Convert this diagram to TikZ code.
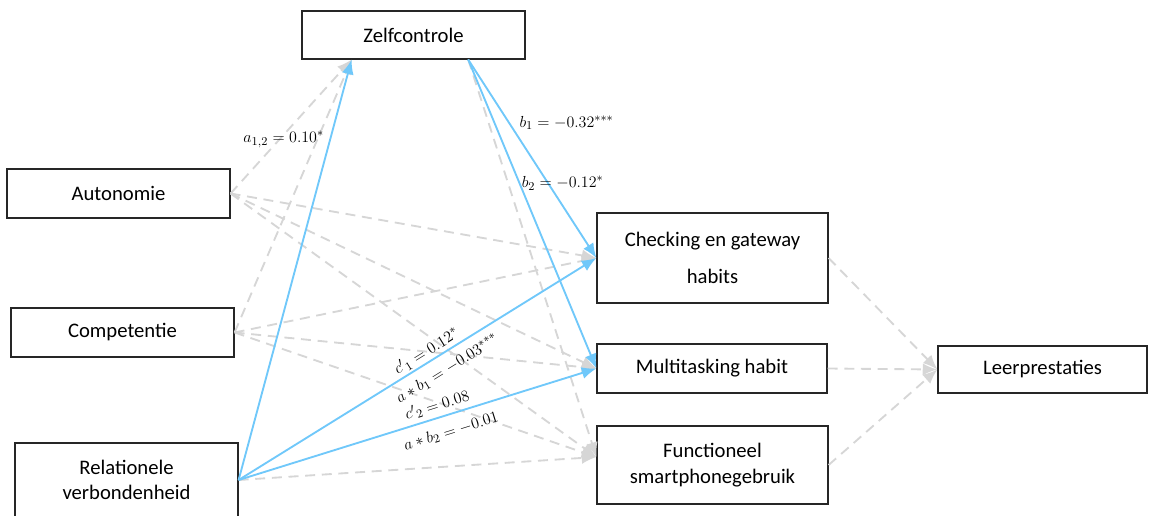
\documentclass[tikz,border=0pt]{standalone}
\usepackage{amsmath}
\usepackage{fontspec}
\setmainfont{Carlito}
\usetikzlibrary{calc,shapes,arrows.meta}

\definecolor{pathblue}{RGB}{112,200,250}
\definecolor{pathgray}{RGB}{214,214,214}

\tikzset{
    var/.style={draw=black!85, line width=0.9pt, align=center, inner sep=2pt,
        font=\fontsize{15.5}{19}\selectfont},
    ns/.style={draw=pathgray, line width=1.4pt, dash pattern=on 7.5pt off 5pt,
        -{Latex[length=11pt,width=9pt]}},
    sig/.style={draw=pathblue, line width=1.4pt, -{Latex[length=11pt,width=9pt]}},
    coef/.style={font=\fontsize{13}{15}\selectfont, inner sep=1pt}
}

\begin{document}
\begin{tikzpicture}[x=0.75pt,y=-0.75pt]
    \clip (0,0) rectangle (1151,516);
    \useasboundingbox (0,0) rectangle (1151,516);

    \node[var, minimum width=167.25pt, minimum height=36pt] (zelf) at (413.5,35) {Zelfcontrole};
    \node[var, minimum width=167.25pt, minimum height=36.75pt] (auto) at (118.5,193.5) {Autonomie};
    \node[var, minimum width=167.25pt, minimum height=36.75pt] (comp) at (122.5,332.5) {Competentie};
    \node[var, minimum width=167.25pt, minimum height=55.5pt] (rela) at (126.5,480) {Relationele\\verbondenheid};
    \node[var, minimum width=173.25pt, minimum height=67.5pt] (check) at (712.5,258) {Checking en gateway\\[9pt]habits};
    \node[var, minimum width=172.5pt, minimum height=36.75pt] (multi) at (712,368.5) {Multitasking habit};
    \node[var, minimum width=173.25pt, minimum height=58.5pt] (func) at (712.5,465) {Functioneel\\smartphonegebruik};
    \node[var, minimum width=156.75pt, minimum height=35.25pt] (leer) at (1042.5,369.5) {Leerprestaties};

    \coordinate (zin) at ($(zelf.south west)!0.224!(zelf.south east)$);
    \coordinate (zout) at ($(zelf.south west)!0.744!(zelf.south east)$);
    \coordinate (funcin) at ([yshift=6pt]func.west);

    % niet significant
    \foreach \s in {auto,comp}
        \foreach \t in {zin,check.west,multi.west,funcin}
            \draw[ns] (\s.east) -- (\t);
    \draw[ns] (rela.east) -- (funcin);
    \draw[ns] (zout) -- (funcin);
    \foreach \s in {check,multi,func}
        \draw[ns] (\s.east) -- (leer.west);

    % significant
    \draw[sig] (rela.east) -- node[coef, pos=0.81, anchor=east, xshift=-3pt] {$a_{1,2} = 0.10^{*}$} (zin);
    \draw[sig] (zout) -- node[coef, pos=0.32, anchor=west, xshift=6pt] {$b_1 = -0.32^{***}$} (check.west);
    \draw[sig] (zout) -- node[coef, pos=0.40, anchor=west] {$b_2 = -0.12^{*}$} (multi.west);
    \draw[sig] (rela.east) -- node[coef, pos=0.54, sloped, above, inner sep=1.5pt] {${c'}_{1} = 0.12^{*}$}
        node[coef, pos=0.56, sloped, below, inner sep=6pt] {$a * b_1 = -0.03^{***}$} (check.west);
    \draw[sig] (rela.east) -- node[coef, pos=0.565, sloped, above, inner sep=3pt] {${c'}_{2} = 0.08$}
        node[coef, pos=0.58, sloped, below, inner sep=7pt] {$a * b_2 = -0.01$} (multi.west);
\end{tikzpicture}
\end{document}
